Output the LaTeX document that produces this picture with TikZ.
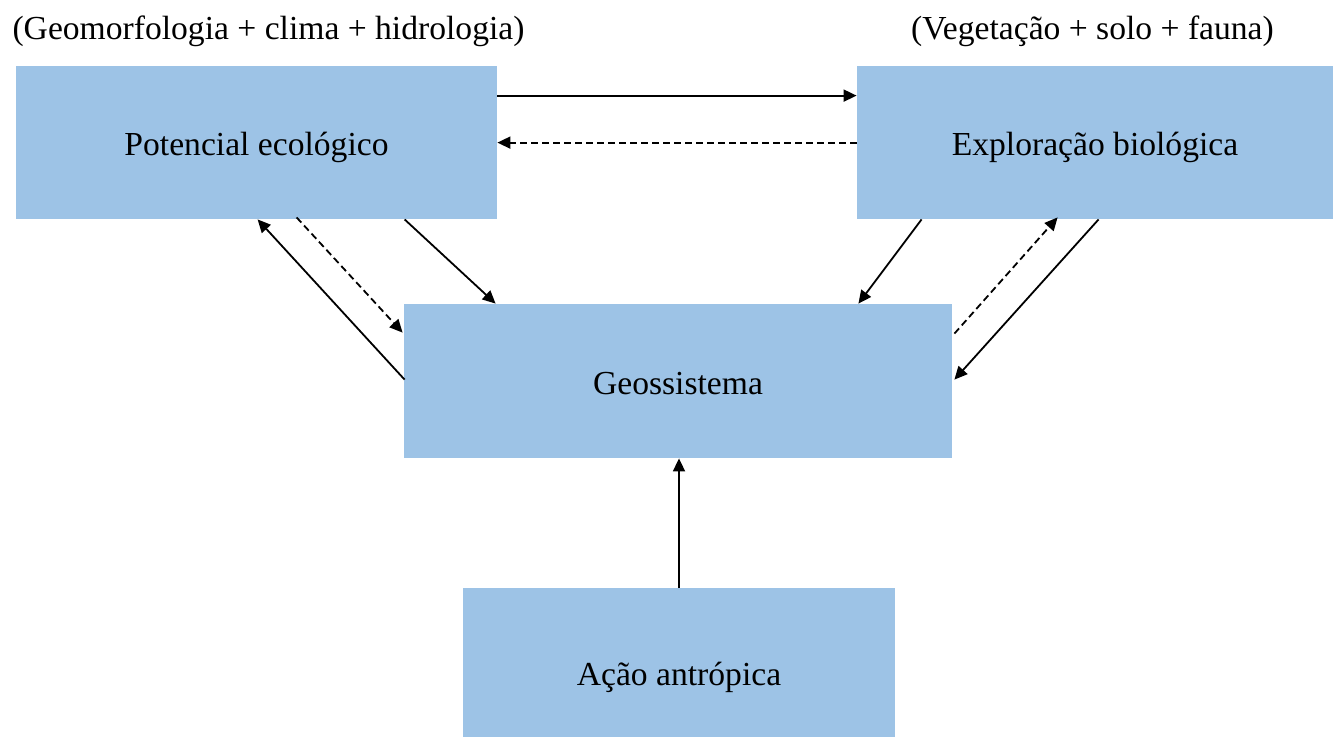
\documentclass[tikz,border=0pt]{standalone}
\usepackage{fontspec}
\setmainfont{Liberation Serif}
\usepackage{xcolor}
\usetikzlibrary{arrows.meta,calc,positioning}

\definecolor{boxblue}{HTML}{9DC3E6}

\tikzset{
  box/.style={fill=boxblue, draw=none, inner sep=0pt, text height=13pt, text depth=0pt, font=\fontsize{16.8}{20}\selectfont},
  flow/.style={-{Triangle[length=6.5pt,width=6pt]}, line width=0.9pt},
  back/.style={flow, dash pattern=on 3.5pt off 2pt},
}

\begin{document}
\begin{tikzpicture}[x=0.5pt, y=-0.5pt]
		\useasboundingbox (0,0) rectangle (1333,736);
		\node[box, minimum width=240.5pt, minimum height=76.5pt] (pot) at (256.5,142.5) {Potencial ecológico};
		\node[box, minimum width=238pt, minimum height=76.5pt] (exp) at (1095,142.5) {Exploração biológica};
		\node[box, minimum width=274pt, minimum height=77pt] (geo) at (678,381) {Geossistema};
		\node[box, minimum width=216pt, minimum height=84pt] (acao) at (679,672) {Ação antrópica};
		\node[font=\fontsize{16.8}{20}\selectfont] (potlbl) at (268.5,31) {(Geomorfologia + clima + hidrologia)};
		\node[font=\fontsize{16.8}{20}\selectfont] (explbl) at (1092.5,31) {(Vegetação + solo + fauna)};
		\draw[flow] ([shift={(0,30)}]pot.north east) -- ([shift={(0,30)}]exp.north west);
		\draw[back] ([shift={(0,77)}]exp.north west) -- ([shift={(0,77)}]pot.north east);
		\draw[flow] ([shift={(1,76)}]geo.north west) -- ([shift={(242,0)}]pot.south west);
		\draw[back] ([shift={(281,-2)}]pot.south west) -- ([shift={(-1,29)}]geo.north west);
		\draw[flow] ([shift={(389,0)}]pot.south west) -- ([shift={(92,0)}]geo.north west);
		\draw[flow] ([shift={(65,0)}]exp.south west) -- ([shift={(-94,0)}]geo.north east);
		\draw[back] ([shift={(2,30)}]geo.north east) -- ([shift={(201,-2)}]exp.south west);
		\draw[flow] ([shift={(242,0)}]exp.south west) -- ([shift={(2,76)}]geo.north east);
		\draw[flow] (acao.north) -- (acao.north |- geo.south);
		\end{tikzpicture}
\end{document}
